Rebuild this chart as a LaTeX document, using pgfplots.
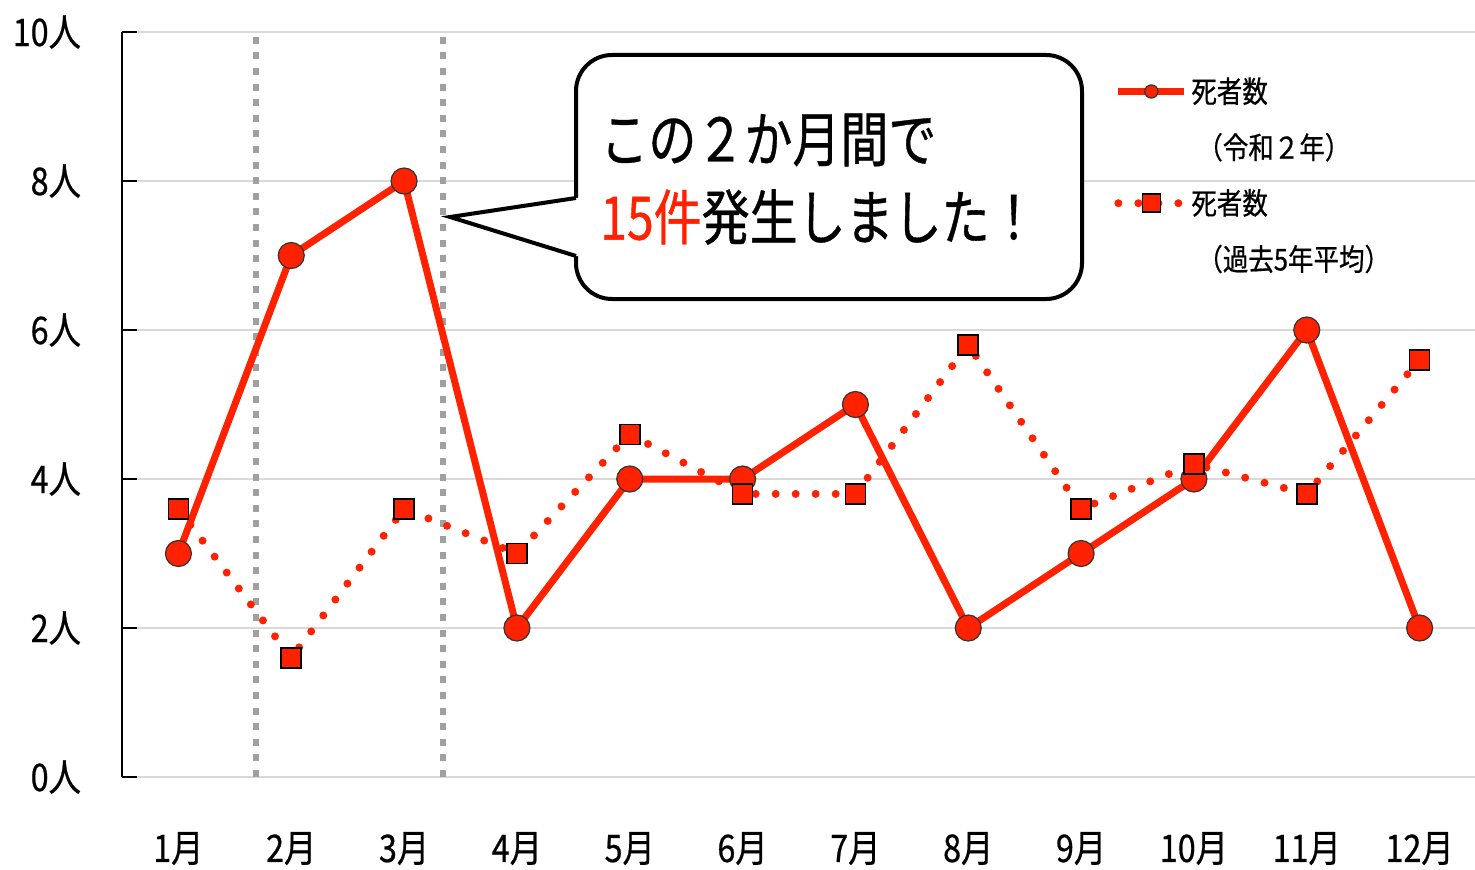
\documentclass[border=0pt]{standalone}
\usepackage{pgfplots}
\pgfplotsset{compat=1.18}
\usepackage{fontspec}
\setmainfont{Noto Sans CJK JP}[FakeStretch=0.85, FakeBold=0.6]
\newfontfamily\calloutfont{Noto Sans CJK JP}[FakeStretch=0.80, FakeBold=0.6]
\definecolor{myred}{RGB}{255,34,0}
\definecolor{gridgray}{RGB}{217,217,217}
\definecolor{vgray}{RGB}{160,160,160}
\begin{document}
\begin{tikzpicture}
\path[use as bounding box] (0,0) rectangle (737.5pt,434.5pt);
\begin{axis}[
  at={(61pt,46pt)}, anchor=south west,
  width=677pt, height=372.5pt, scale only axis,
  xmin=-0.5, xmax=11.5, ymin=0, ymax=10,
  axis lines*=left,
  x axis line style={draw=none},
  y axis line style={black, line width=0.6pt},
  ytick={0,2,4,6,8,10}, yticklabels={0人,2人,4人,6人,8人,10人},
  xtick={0,...,11}, xticklabels={1月,2月,3月,4月,5月,6月,7月,8月,9月,10月,11月,12月},
  ymajorgrids, grid style={gridgray, line width=0.7pt},
  major tick length=7.5pt, tick align=inside,
  xtick style={draw=none}, ytick style={black, line width=0.6pt},
  tick label style={font=\fontsize{19}{21}\selectfont},
  yticklabel style={xshift=-17pt},
  xticklabel style={yshift=-24pt},
  clip=false,
  legend style={at={(axis description cs:0.7326,0.945)}, anchor=north west, draw=none, fill=none,
    font=\fontsize{15}{17}\selectfont, row sep=9.7pt, inner sep=0pt,
    nodes={inner xsep=1.5pt}},
  legend cell align=left,
  legend image code/.code={\draw[mark repeat=2,mark phase=2,#1] plot coordinates {(0pt,0pt)(16.5pt,0pt)(33pt,0pt)};},
]
\addplot[vgray, line width=3pt, dash pattern=on 3.5pt off 4.3pt, forget plot] coordinates {(0.69,0) (0.69,10)};
\addplot[vgray, line width=3pt, dash pattern=on 3.5pt off 4.3pt, forget plot] coordinates {(2.345,0) (2.345,10)};
\addplot[myred, line width=3.5pt, line join=round, mark=*, mark size=6.5pt,
  mark options={fill=myred, draw=black!80, line width=0.6pt, solid},
  legend image post style={mark size=3.3pt}]
  coordinates {(0,3) (1,7) (2,8) (3,2) (4,4) (5,4) (6,5) (7,2) (8,3) (9,4) (10,6) (11,2)};
\addlegendentry{死者数}
\addlegendimage{empty legend}
\addlegendentry{\hspace*{3pt}（令和２年）}
\addplot[myred, line width=4pt, line cap=round, dash pattern=on 0pt off 10pt, mark=square*, mark size=5pt,
  mark options={fill=myred, draw=black, line width=0.8pt, solid},
  legend image post style={mark size=4.5pt}]
  coordinates {(0,3.6) (1,1.6) (2,3.6) (3,3.0) (4,4.6) (5,3.8) (6,3.8) (7,5.8) (8,3.6) (9,4.2) (10,3.8) (11,5.6)};
\addlegendentry{死者数}
\addlegendimage{empty legend}
\addlegendentry{\hspace*{3pt}（過去5年平均）}
\end{axis}
\begin{scope}[shift={(0,434.5pt)}, x=0.5pt, y=-0.5pt]
\draw[line width=2pt, fill=white, rounded corners=18pt] (576,55) rectangle (1082,299);
\fill[white] (450,217) -- (576,198) -- (581,198) -- (581,256) -- (576,256) -- cycle;
\draw[line width=2pt, line join=miter] (576,198) -- (450,217) -- (576,256);
\node[anchor=west, inner sep=0pt] at (600,140) {\calloutfont\fontsize{30}{32}\selectfont この２か月間で};
\node[anchor=west, inner sep=0pt] at (600,217) {\calloutfont\fontsize{30}{32}\selectfont \textcolor{myred}{15件}発生しました！};
\end{scope}
\end{tikzpicture}
\end{document}
